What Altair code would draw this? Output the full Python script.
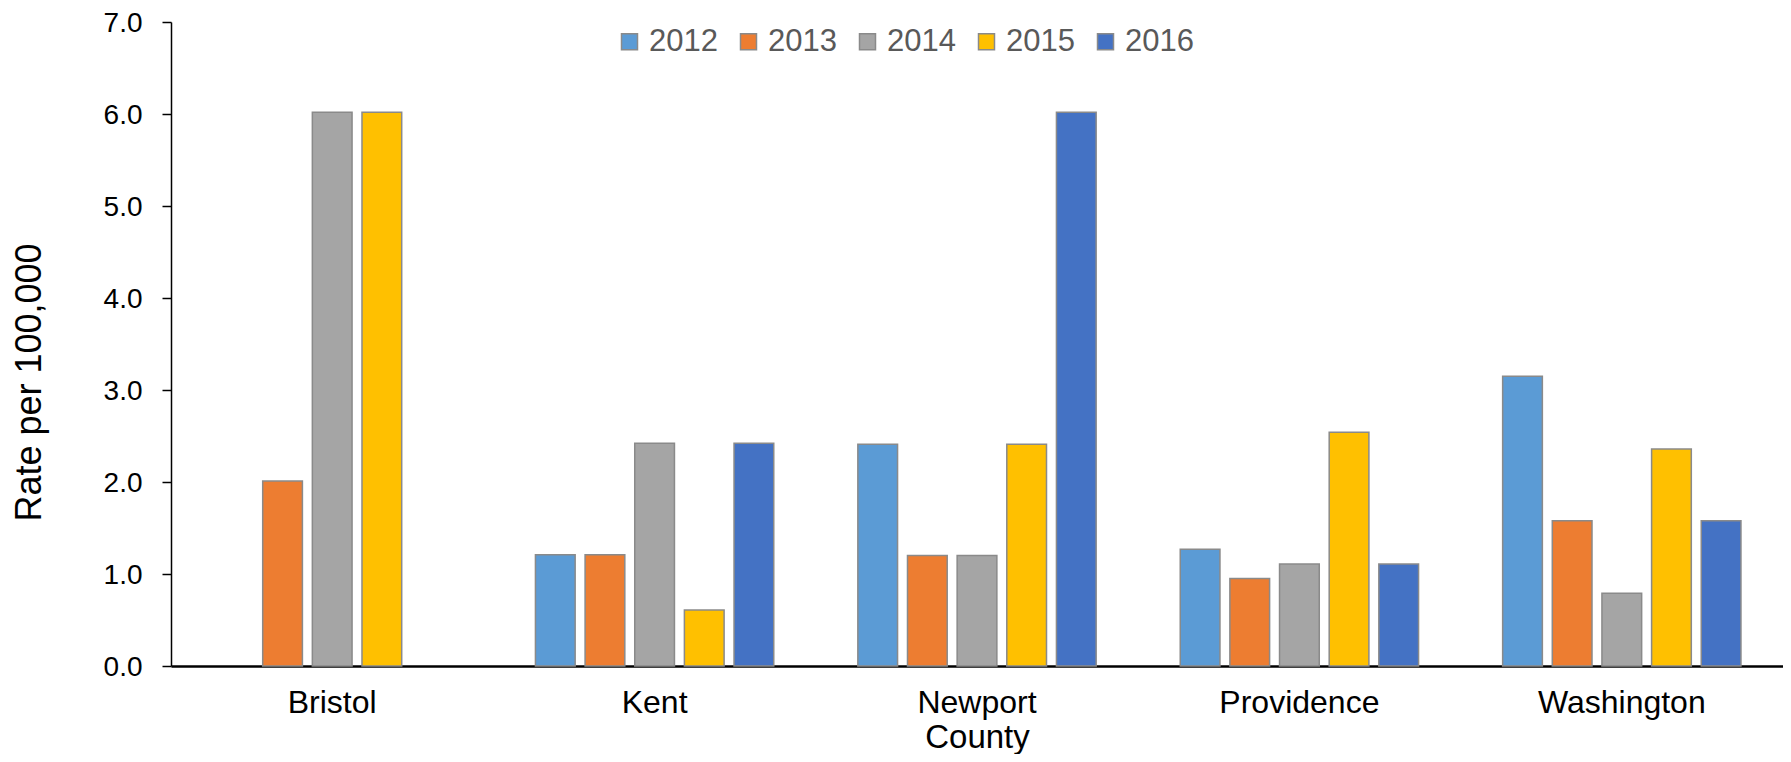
import altair as alt
import pandas as pd

counties = ["Bristol", "Kent", "Newport", "Providence", "Washington"]
years = ["2012", "2013", "2014", "2015", "2016"]
rate_2012 = [None, 1.21, 2.41, 1.27, 3.15]
rate_2013 = [2.01, 1.21, 1.20, 0.95, 1.58]
rate_2014 = [6.02, 2.42, 1.20, 1.11, 0.79]
rate_2015 = [6.02, 0.61, 2.41, 2.54, 2.36]
rate_2016 = [None, 2.42, 6.02, 1.11, 1.58]
colors = ["#5B9BD5", "#ED7D31", "#A5A5A5", "#FFC000", "#4472C4"]
y_ticks = [0, 1, 2, 3, 4, 5, 6, 7]

series = [rate_2012, rate_2013, rate_2014, rate_2015, rate_2016]
rows = []
for yr, vals in zip(years, series):
    for c, v in zip(counties, vals):
        if v is not None:
            rows.append({"County": c, "Year": yr, "Rate": v})
df = pd.DataFrame(rows)

FONT = "Liberation Sans"
W, H = 1612, 644

chart = alt.Chart(df).mark_bar(stroke="#8a8a8a", strokeWidth=1.5).encode(
    x=alt.X("County:N", sort=counties,
            scale=alt.Scale(paddingInner=0.23, paddingOuter=0.115),
            axis=alt.Axis(title="County", labelAngle=0, ticks=False, tickSize=0,
                          labelBaseline="alphabetic", labelPadding=46,
                          labelFontSize=32, labelColor="#000000",
                          domainColor="#000000", domainWidth=2.5,
                          titleFontSize=33, titleFontWeight="normal", titleColor="#000000",
                          titleBaseline="alphabetic", titleY=81.5, titleX=W / 2,
                          titleAlign="center")),
    xOffset=alt.XOffset("Year:N", sort=years,
                        scale=alt.Scale(domain=years, paddingInner=0.2, paddingOuter=0.1)),
    y=alt.Y("Rate:Q",
            scale=alt.Scale(domain=[0, 7], nice=False),
            axis=alt.Axis(title="Rate per 100,000", values=y_ticks, format=".1f",
                          grid=False, tickSize=9, tickColor="#000000", tickWidth=1.5,
                          labelPadding=20, labelFontSize=28, labelColor="#000000",
                          labelOffset=1.5,
                          domainColor="#000000", domainWidth=1.5,
                          titleFontSize=36, titleFontWeight="normal", titleColor="#000000",
                          titleX=-142, titleY=360, titleBaseline="middle",
                          titleAlign="center", titleAngle=-90)),
    color=alt.Color("Year:N", sort=years,
                    scale=alt.Scale(domain=years, range=colors),
                    legend=alt.Legend(orient="none", direction="horizontal",
                                      legendX=443, legendY=4, title=None,
                                      symbolType="square", symbolSize=256,
                                      symbolStrokeColor="#8a8a8a", symbolStrokeWidth=1.5,
                                      labelFontSize=31, labelColor="#595959",
                                      labelOffset=4, columnPadding=15, padding=0)),
).properties(
    width=W, height=H,
    autosize=alt.AutoSizeParams(type="none"),
    padding={"left": 163, "top": 14, "right": 0, "bottom": 88},
).configure(
    font=FONT,
).configure_view(
    stroke=None
)

chart.save("out.html", embed_options={"renderer": "svg", "actions": False})
